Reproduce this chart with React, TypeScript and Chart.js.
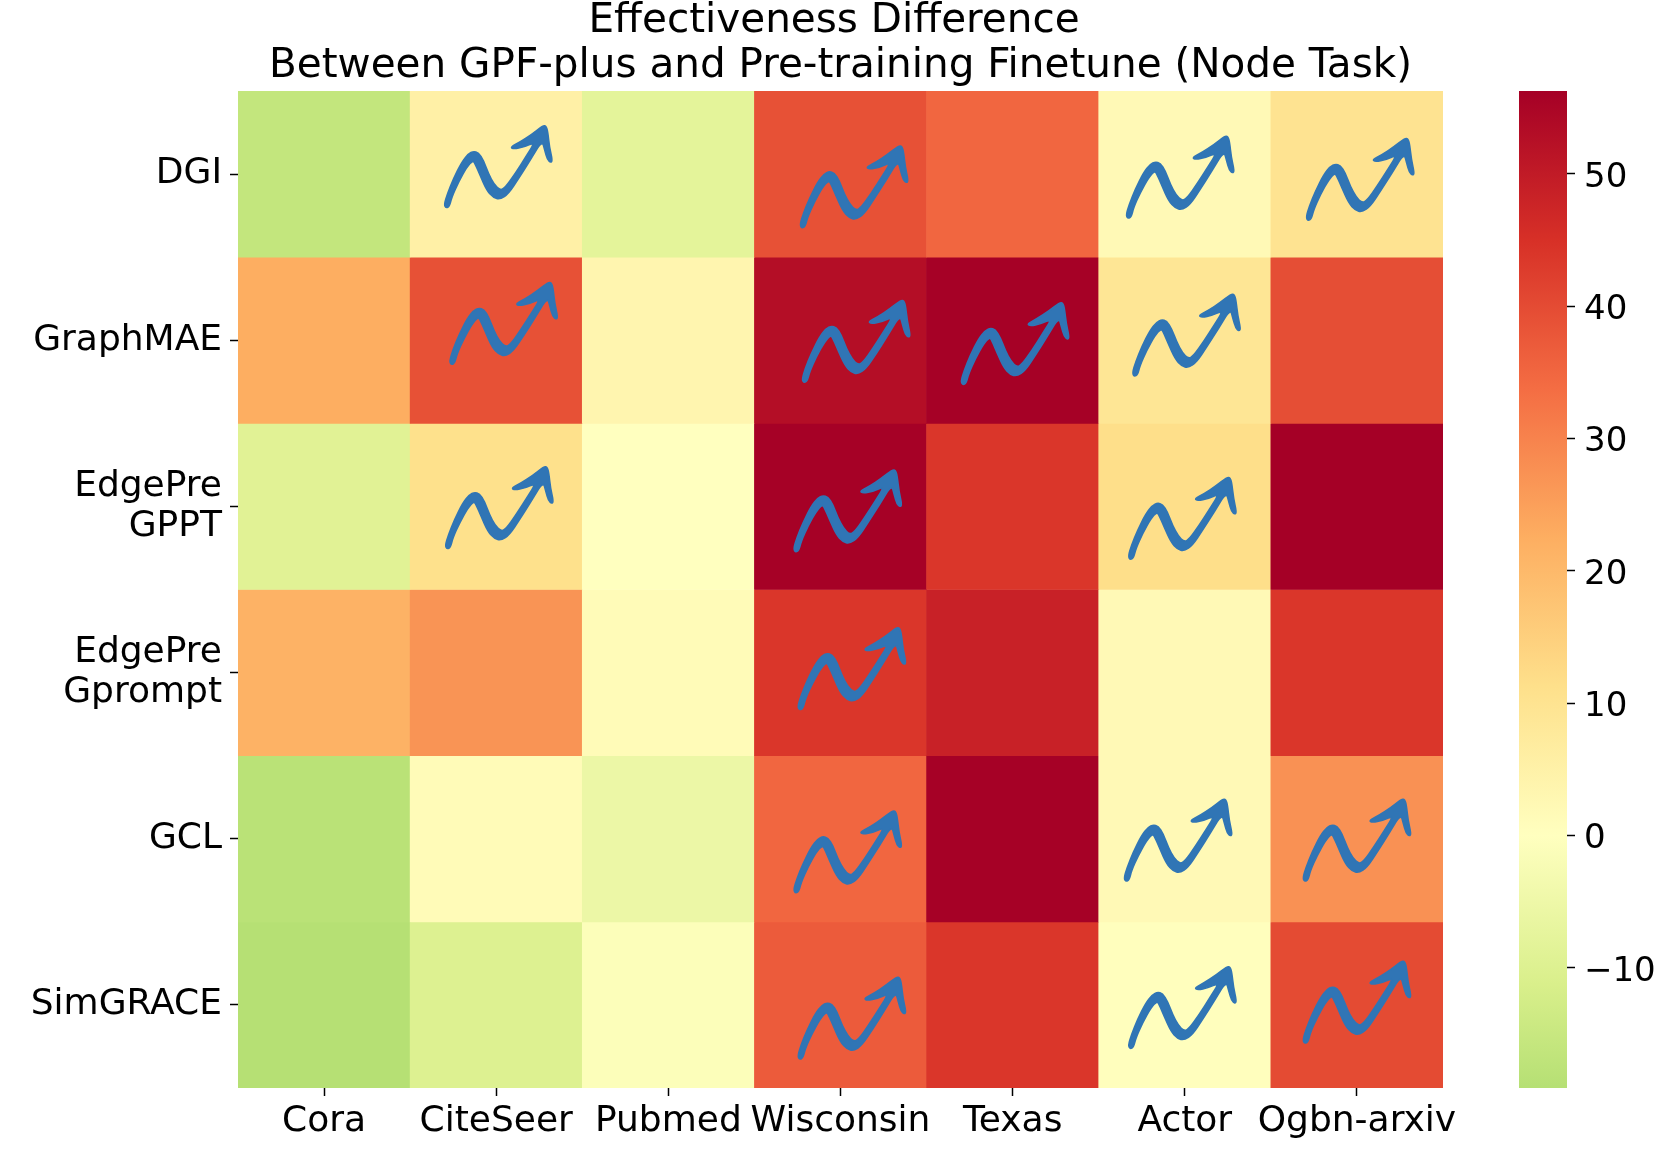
import React, { useEffect, useRef } from "react";
import { Chart, registerables } from "chart.js";

Chart.register(...registerables);

const columns = ["Cora", "CiteSeer", "Pubmed", "Wisconsin", "Texas", "Actor", "Ogbn-arxiv"];
const rowLabels = ["DGI", "GraphMAE", ["EdgePre", "GPPT"], ["EdgePre", "Gprompt"], "GCL", "SimGRACE"];

const dgi = [-16, 5.4, -8, 39, 35, 2, 10];
const graphMAE = [22.5, 39, 3.5, 53, 56, 9, 39.5];
const edgePreGPPT = [-9, 11, 0, 56, 44, 11.5, 56.27];
const edgePreGprompt = [21.5, 27, 1.5, 44, 48.5, 2, 44];
const gcl = [-18, 1.5, -5.5, 35, 56, 2, 27.5];
const simGRACE = [-19, -10, -1, 37, 44, 0.5, 40];
const rows = [dgi, graphMAE, edgePreGPPT, edgePreGprompt, gcl, simGRACE];

const vMin = -19.07;
const vMax = 56.27;
const colorTicks = [-10, 0, 10, 20, 30, 40, 50];
const colormap = ["#006837", "#1a9850", "#66bd63", "#a6d96a", "#d9ef8b", "#ffffbf", "#fee08b", "#fdae61", "#f46d43", "#d73027", "#a50026"];

// arrows: [row, column, tip x inside the cell, tip y inside the cell]
const arrowCells = [
  [0, 1, 0.784, 0.217], [0, 3, 0.851, 0.338], [0, 5, 0.745, 0.28], [0, 6, 0.791, 0.293],
  [1, 1, 0.815, 0.16], [1, 3, 0.863, 0.268], [1, 4, 0.786, 0.281], [1, 5, 0.782, 0.23],
  [2, 1, 0.79, 0.269], [2, 3, 0.814, 0.288], [2, 5, 0.758, 0.333],
  [3, 3, 0.838, 0.238],
  [4, 3, 0.814, 0.34], [4, 5, 0.733, 0.27], [4, 6, 0.772, 0.27],
  [5, 3, 0.838, 0.341], [5, 5, 0.758, 0.277], [5, 6, 0.772, 0.245],
];
const arrowOutline = [
  [72, 283], [82, 250], [100, 205], [125, 155], [145, 130], [160, 123], [175, 127], [190, 150], [205, 190], [222, 222],
  [240, 240], [255, 232], [285, 190], [320, 135], [345, 95], [312, 110], [280, 116], [271, 110], [300, 95], [335, 72],
  [368, 46], [378, 47], [383, 65], [388, 110], [397, 150], [392, 157], [382, 148], [374, 120], [366, 90], [330, 150],
  [295, 205], [265, 250], [240, 267], [220, 262], [200, 240], [180, 195], [165, 160], [158, 150], [140, 170], [115, 215],
  [95, 260], [88, 288], [78, 293],
];
const arrowTip = [375, 50];
const arrowScale = 1 / 3;
const arrowColor = "#3075b5";

const fontFamily = "'DejaVu Sans'";

function hexToRgb(h: string) {
  return [1, 3, 5].map((i) => parseInt(h.slice(i, i + 2), 16));
}
function colorFor(v: number) {
  const t = Math.min(1, Math.max(0, (v + vMax) / (2 * vMax))) * (colormap.length - 1);
  const i = Math.min(colormap.length - 2, Math.floor(t));
  const a = hexToRgb(colormap[i]);
  const b = hexToRgb(colormap[i + 1]);
  const f = t - i;
  const c = a.map((x, k) => Math.round(x + (b[k] - x) * f));
  return `rgb(${c[0]},${c[1]},${c[2]})`;
}

const arrowPlugin = {
  id: "arrows",
  afterDatasetsDraw(chart: any) {
    const { ctx, scales } = chart;
    const cx0 = scales.x.getPixelForValue(0);
    const cellW = scales.x.getPixelForValue(1) - cx0;
    ctx.save();
    ctx.fillStyle = arrowColor;
    ctx.strokeStyle = arrowColor;
    ctx.lineWidth = 1.6;
    ctx.lineJoin = "round";
    arrowCells.forEach(([r, c, fx, fy]) => {
      const tx = cx0 - cellW / 2 + (c + fx) * cellW;
      const ty = scales.y.getPixelForValue(r + fy);
      const pts = arrowOutline.map(([x, y]) => [tx + (x - arrowTip[0]) * arrowScale, ty + (y - arrowTip[1]) * arrowScale]);
      ctx.beginPath();
      const n = pts.length;
      const mid = (a: number[], b: number[]) => [(a[0] + b[0]) / 2, (a[1] + b[1]) / 2];
      const s = mid(pts[n - 1], pts[0]);
      ctx.moveTo(s[0], s[1]);
      for (let i = 0; i < n; i++) {
        const m = mid(pts[i], pts[(i + 1) % n]);
        ctx.quadraticCurveTo(pts[i][0], pts[i][1], m[0], m[1]);
      }
      ctx.closePath();
      ctx.fill();
      ctx.stroke();
    });
    ctx.restore();
  },
};

export default function App() {
  const mainRef = useRef<HTMLCanvasElement>(null);
  const barRef = useRef<HTMLCanvasElement>(null);

  useEffect(() => {
    const main = new Chart(mainRef.current as any, {
      type: "bar",
      data: {
        labels: columns,
        datasets: rows.map((values, r) => ({
          label: String(rowLabels[r]),
          data: values.map((_, c) => ({ x: columns[c], y: [r, r + 1] })) as any,
          backgroundColor: values.map(colorFor),
          borderWidth: 0,
          grouped: false,
          barPercentage: 1,
          categoryPercentage: 1,
        })),
      },
      options: {
        responsive: false,
        animation: false,
        layout: { padding: { left: 0, right: 217, top: -1, bottom: 0 } },
        plugins: {
          legend: { display: false },
          tooltip: { enabled: false },
          title: {
            display: true,
            fullSize: false,
            text: ["Effectiveness Difference ", "Between GPF-plus and Pre-training Finetune (Node Task)"],
            color: "#000",
            font: { family: fontFamily, size: 40.5, weight: "normal", lineHeight: 45 / 40.5 },
            padding: { top: 0, bottom: 2 },
          },
        },
        scales: {
          x: {
            type: "category",
            grid: { drawOnChartArea: false, drawTicks: true, tickLength: 8, tickWidth: 1.5, tickColor: "#000", offset: false },
            border: { display: false },
            ticks: { color: "#000", font: { family: fontFamily, size: 36 }, padding: 4, maxRotation: 0, minRotation: 0, autoSkip: false },
            afterFit: (s: any) => { s.height = 62; },
          },
          y: {
            type: "linear",
            reverse: true,
            min: 0,
            max: rows.length,
            afterBuildTicks: (s: any) => { s.ticks = rows.map((_, i) => ({ value: i + 0.5 })); },
            grid: { drawOnChartArea: false, drawTicks: true, tickLength: 8, tickWidth: 1.5, tickColor: "#000" },
            border: { display: false },
            ticks: {
              color: "#000",
              font: { family: fontFamily, size: 36, lineHeight: 40 / 36 },
              padding: 8,
              autoSkip: false,
              callback: (v: any) => rowLabels[Math.floor(Number(v))] as any,
            },
            afterFit: (s: any) => { s.width = 238; },
          },
        },
      } as any,
      plugins: [arrowPlugin],
    });

    const bar = new Chart(barRef.current as any, {
      type: "bar",
      data: {
        labels: ["scale"],
        datasets: [{
          label: "scale",
          data: [[vMin, vMax]] as any,
          borderWidth: 0,
          barPercentage: 1,
          categoryPercentage: 1,
          backgroundColor: (ctx: any) => {
            const { chart } = ctx;
            const s = chart.scales.y;
            if (!chart.chartArea || !s) return colormap[5];
            const g = chart.ctx.createLinearGradient(0, s.getPixelForValue(-vMax), 0, s.getPixelForValue(vMax));
            colormap.forEach((c, i) => g.addColorStop(i / (colormap.length - 1), c));
            return g;
          },
        }],
      },
      options: {
        responsive: false,
        animation: false,
        layout: { padding: { left: 19, right: 0, top: 91, bottom: 62 } },
        plugins: { legend: { display: false }, tooltip: { enabled: false }, title: { display: false } },
        scales: {
          x: { display: false },
          y: {
            type: "linear",
            position: "right",
            min: vMin,
            max: vMax,
            afterBuildTicks: (s: any) => { s.ticks = colorTicks.map((value) => ({ value })); },
            grid: { drawOnChartArea: false, drawTicks: true, tickLength: 8, tickWidth: 1.5, tickColor: "#000" },
            border: { display: false },
            ticks: {
              color: "#000",
              font: { family: fontFamily, size: 34, lineHeight: 0.22 },
              padding: 9,
              // the empty first line lowers the number to the place it has in the reference
              callback: (v: any) => ["", String(v).replace("-", "\u2212")] as any,
            },
            afterFit: (s: any) => { s.width = 93; },
          },
        },
      } as any,
    });

    return () => {
      main.destroy();
      bar.destroy();
    };
  }, []);

  return (
    <div style={{ position: "absolute", left: 0, top: 0, width: 1660, height: 1150, background: "#fff", overflow: "hidden" }}>
      <canvas ref={mainRef} width={1660} height={1150} style={{ position: "absolute", left: 0, top: 0, width: 1660, height: 1150 }} />
      <canvas ref={barRef} width={160} height={1150} style={{ position: "absolute", left: 1500, top: 0, width: 160, height: 1150 }} />
    </div>
  );
}
